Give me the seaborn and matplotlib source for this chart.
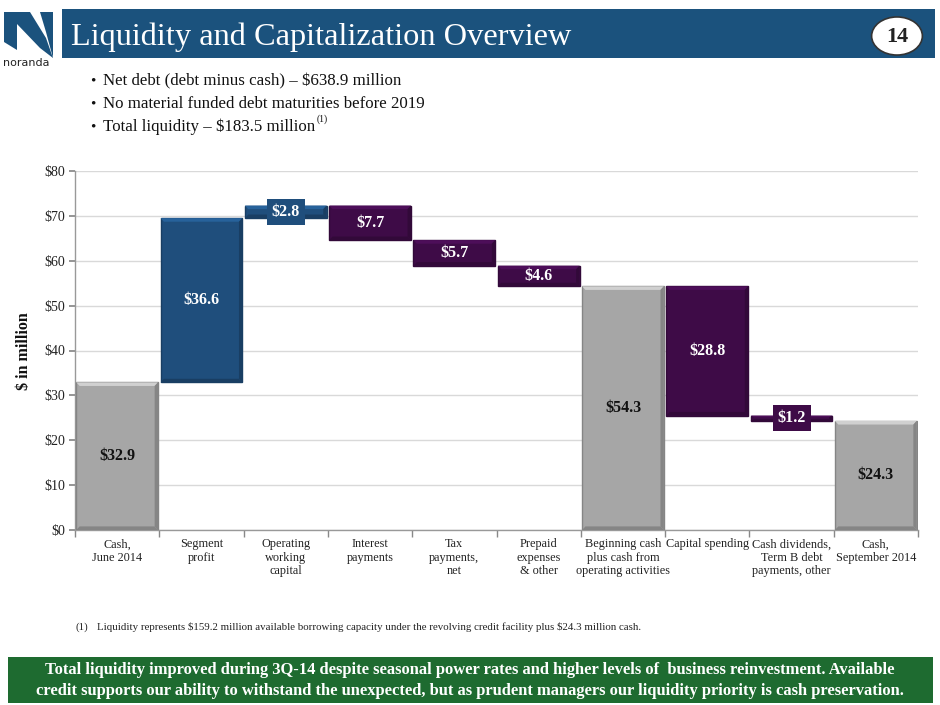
import numpy as np
import pandas as pd
import matplotlib
matplotlib.use("Agg")
import matplotlib.pyplot as plt
import matplotlib.colors as mcolors
import colorsys
import seaborn as sns
from matplotlib.patches import Rectangle, Circle, Polygon

# chart data
categories = ["Cash,\nJune 2014", "Segment\nprofit", "Operating\nworking\ncapital",
              "Interest\npayments", "Tax\npayments,\nnet", "Prepaid\nexpenses\n& other",
              "Beginning cash\nplus cash from\noperating activities", "Capital spending",
              "Cash dividends,\nTerm B debt\npayments, other", "Cash,\nSeptember 2014"]
changes = [32.9, 36.6, 2.8, -7.7, -5.7, -4.6, 54.3, -28.8, -1.2, 24.3]
kinds = ["total", "increase", "increase", "decrease", "decrease", "decrease",
         "total", "decrease", "decrease", "total"]
y_ticks = [0, 10, 20, 30, 40, 50, 60, 70, 80]

bullets = ["Net debt (debt minus cash) \u2013 $638.9 million",
           "No material funded debt maturities before 2019",
           "Total liquidity \u2013 $183.5 million"]

colors = {"total": "#A6A6A6", "increase": "#1F4E7C", "decrease": "#3E0B47"}
label_colors = {"total": "#111111", "increase": "white", "decrease": "white"}
SERIF = ["Liberation Serif", "DejaVu Serif"]


def shade(c, f):
    h, l, s = colorsys.rgb_to_hls(*mcolors.to_rgb(c))
    return colorsys.hls_to_rgb(h, max(0, min(1, l * f)), s)


# waterfall geometry
bottoms, heights = [], []
level = 0.0
for v, k in zip(changes, kinds):
    if k == "total":
        bottoms.append(0.0); heights.append(v); level = v
    elif k == "increase":
        bottoms.append(level); heights.append(v); level += v
    else:
        level += v
        bottoms.append(level); heights.append(-v)

df = pd.DataFrame({"Category": categories, "Height": heights, "Bottom": bottoms, "Kind": kinds})

sns.set_theme(style="white")
plt.rcParams["font.family"] = SERIF

W, H = 940, 705
fig = plt.figure(figsize=(W / 100, H / 100), dpi=100)


def fx(x):
    return x / W


def fy(y):
    return 1 - y / H


# header band
fig.add_artist(Rectangle((fx(62), fy(58)), fx(935) - fx(62), fy(9) - fy(58),
                         transform=fig.transFigure, facecolor="#1B527D", edgecolor="none"))
fig.text(fx(71), fy(37), "Liquidity and Capitalization Overview", color="white",
         fontsize=23.3, va="center", ha="left")
fig.add_artist(Circle((fx(897), fy(36)), 0.027, transform=fig.transFigure,
                      facecolor="white", edgecolor="#333333", linewidth=1.2))
fig.text(fx(897), fy(37), "14", fontsize=16, fontweight="bold", ha="center", va="center",
         color="#222222")

# logo (rough)
logo_blue = "#1B527D"
fig.add_artist(Polygon([(fx(4), fy(12)), (fx(17), fy(12)), (fx(17), fy(50)), (fx(4), fy(42))],
                       closed=True, transform=fig.transFigure, facecolor=logo_blue, edgecolor="none"))
fig.add_artist(Polygon([(fx(17), fy(12)), (fx(30), fy(12)), (fx(46), fy(38)), (fx(53), fy(58)),
                        (fx(40), fy(48)), (fx(17), fy(24))],
                       closed=True, transform=fig.transFigure, facecolor=logo_blue, edgecolor="none"))
fig.add_artist(Polygon([(fx(40), fy(12)), (fx(53), fy(12)), (fx(53), fy(58)), (fx(46), fy(32))],
                       closed=True, transform=fig.transFigure, facecolor=logo_blue, edgecolor="none"))
fig.text(fx(3), fy(63), "noranda", fontsize=8, family=["DejaVu Sans"], color="#222222",
         ha="left", va="center")

# bullets
bullet_texts = []
for i, b in enumerate(bullets):
    yy = fy(81 + 23 * i)
    fig.text(fx(90), yy, "\u2022", fontsize=11, va="center", ha="left", color="#111111")
    bullet_texts.append(fig.text(fx(103), yy, b, fontsize=12.2, va="center", ha="left",
                                 color="#111111"))
fig.canvas.draw()
bb = bullet_texts[-1].get_window_extent()
fig.text(bb.x1 / W + 0.001, fy(119), "(1)", fontsize=7, va="center", ha="left", color="#111111")

# chart
ax = fig.add_axes([fx(75), fy(530), fx(918) - fx(75), fy(171) - fy(530)])
sns.barplot(data=df, x="Category", y="Height", bottom=df["Bottom"].values, color="#A6A6A6",
            width=0.97, errorbar=None, ax=ax, zorder=3)

for p, k in zip(ax.patches, kinds):
    c = colors[k]
    p.set_facecolor(c)
    p.set_edgecolor(shade(c, 0.8))
    p.set_linewidth(1.0)
    # bevel
    x0, y0 = p.get_x(), p.get_y()
    w, h = p.get_width(), p.get_height()
    dx, dy = 0.04, min(0.8, h / 3)
    light = shade(c, 1.25)
    dark = shade(c, 0.8)
    ax.add_patch(Polygon([(x0, y0 + h), (x0 + w, y0 + h), (x0 + w - dx, y0 + h - dy), (x0 + dx, y0 + h - dy)],
                         closed=True, facecolor=light, edgecolor="none", zorder=4))
    ax.add_patch(Polygon([(x0 + w, y0 + h), (x0 + w, y0), (x0 + w - dx, y0 + dy), (x0 + w - dx, y0 + h - dy)],
                         closed=True, facecolor=dark, edgecolor="none", zorder=4))
    ax.add_patch(Polygon([(x0, y0), (x0 + w, y0), (x0 + w - dx, y0 + dy), (x0 + dx, y0 + dy)],
                         closed=True, facecolor=dark, edgecolor="none", zorder=4))

for i, (v, k, b, h) in enumerate(zip(changes, kinds, bottoms, heights)):
    kw = {}
    if h < 3:
        kw["bbox"] = dict(boxstyle="square,pad=0.3", facecolor=colors[k], edgecolor="none")
    ax.text(i, b + h / 2, f"${abs(v):.1f}", ha="center", va="center", fontsize=11.5,
            fontweight="bold", color=label_colors[k], zorder=6, **kw)

ax.set_ylim(0, 80)
ax.set_xlim(-0.5, len(categories) - 0.5)
ax.set_yticks(y_ticks)
ax.set_yticklabels([f"${t}" for t in y_ticks], fontsize=10, color="#222222")
ax.yaxis.grid(True, color="#D9D9D9", linewidth=1.0, zorder=0)
ax.set_axisbelow(True)
ax.tick_params(axis="y", left=True, length=4, color="#888888", pad=3)
ax.tick_params(axis="x", bottom=False, length=0, pad=6)
ax.set_xticks(np.arange(-0.5, len(categories), 1.0), minor=True)
ax.tick_params(axis="x", which="minor", bottom=True, length=5, color="#888888")
ax.set_xticklabels(categories, fontsize=8.8, color="#222222", linespacing=1.15)
for s in ["top", "right"]:
    ax.spines[s].set_visible(False)
for s in ["left", "bottom"]:
    ax.spines[s].set_color("#999999")
    ax.spines[s].set_linewidth(1.0)
ax.set_xlabel("")
ax.set_ylabel("")
fig.text(fx(24), fy(351), "$ in million", rotation=90, fontsize=11.5, fontweight="bold",
         ha="center", va="center", color="#111111")

# footnote
fig.text(fx(75), fy(627), "(1)", fontsize=7.8, va="center", ha="left", color="#222222")
fig.text(fx(97), fy(627), "Liquidity represents \\$159.2 million available borrowing capacity under the "
         "revolving credit facility plus \\$24.3 million cash.", fontsize=7.8, va="center", ha="left",
         color="#222222")

# green takeaway box
fig.add_artist(Rectangle((fx(8), fy(703)), fx(933) - fx(8), fy(657) - fy(703),
                         transform=fig.transFigure, facecolor="#1E6B30", edgecolor="none"))
fig.text(fx(470), fy(670), "Total liquidity improved during 3Q-14 despite seasonal power rates and higher "
         "levels of  business reinvestment. Available", fontsize=11.9, fontweight="bold",
         color="white", ha="center", va="center")
fig.text(fx(470), fy(691), "credit supports our ability to withstand the unexpected, but as prudent "
         "managers our liquidity priority is cash preservation.", fontsize=11.9, fontweight="bold",
         color="white", ha="center", va="center")

fig.savefig("out.png", dpi=100)
